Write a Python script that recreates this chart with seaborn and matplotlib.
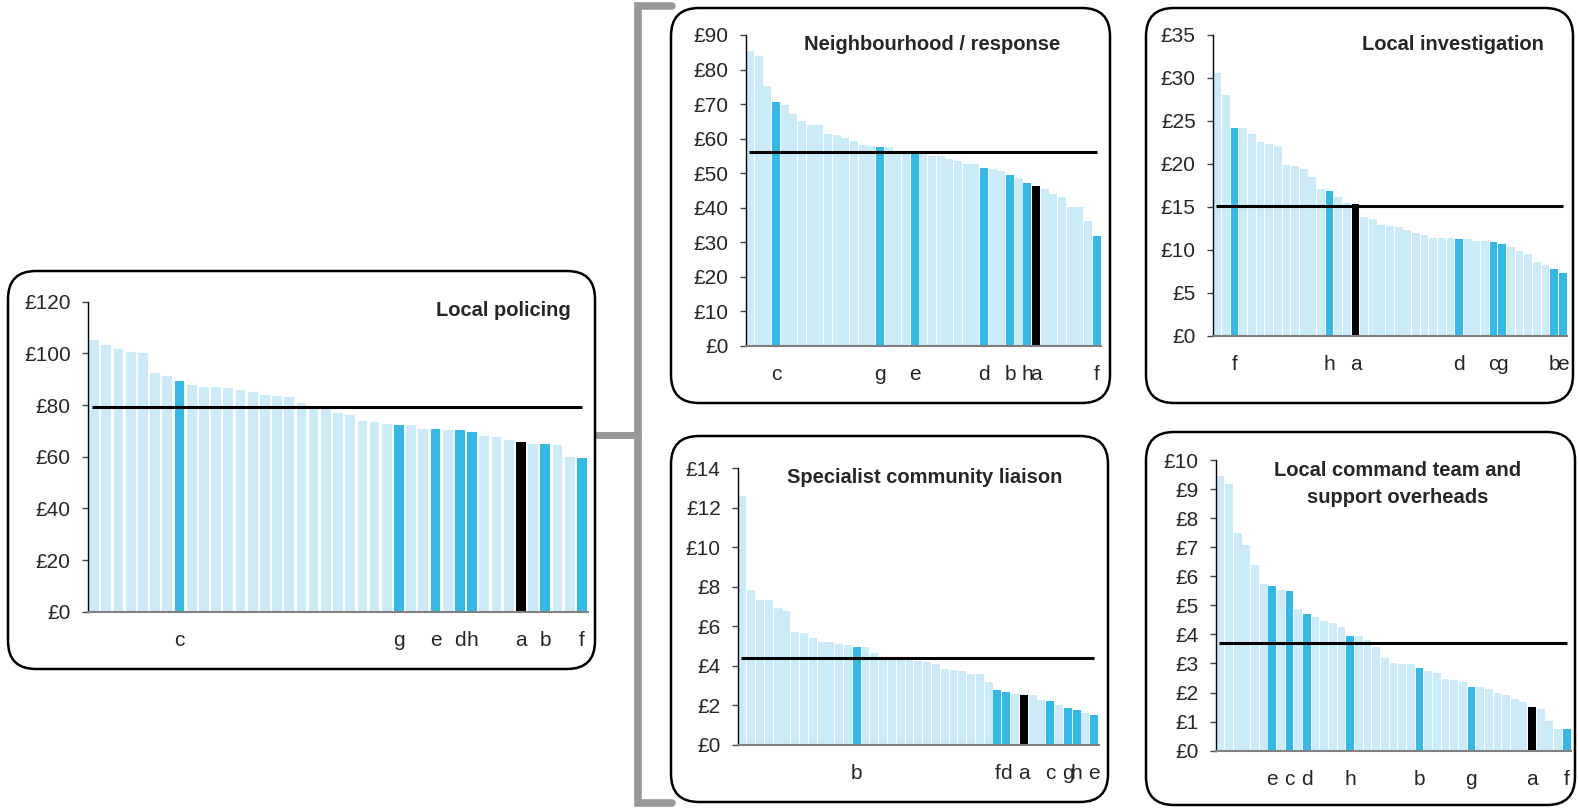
import numpy as np
import pandas as pd
import matplotlib
matplotlib.use("Agg")
import matplotlib.pyplot as plt
from matplotlib.patches import FancyBboxPatch
from matplotlib.lines import Line2D
from matplotlib.ticker import FuncFormatter
import seaborn as sns

sns.set_style("white")
plt.rcParams['font.family'] = ['Liberation Sans', 'DejaVu Sans']

W, H = 1578, 809

# ---------------- data (cost per head, £) ----------------
local_policing = [105.2, 103.2, 101.7, 100.5, 100.1, 92.4, 91.2, 89.3, 87.7, 87.0,
                  87.0, 86.6, 85.8, 85.0, 83.9, 83.5, 83.1, 80.6, 79.2, 79.0,
                  76.9, 76.1, 73.8, 73.4, 72.6, 72.3, 72.3, 70.7, 70.7, 70.3,
                  70.3, 69.5, 68.0, 67.6, 66.5, 65.7, 64.9, 64.9, 64.5, 59.9, 59.5]
local_policing_mean = 79.1
local_policing_labels = {'c': 7, 'g': 25, 'e': 28, 'd': 30, 'h': 31, 'a': 35, 'b': 37, 'f': 40}

neighbourhood = [85.3, 83.9, 75.2, 70.6, 69.7, 67.1, 65.1, 63.9, 63.9, 61.3,
                 61.0, 60.1, 59.3, 58.1, 57.8, 57.5, 57.5, 56.5, 56.3, 56.2,
                 55.7, 54.9, 54.9, 54.1, 53.5, 52.6, 52.6, 51.4, 51.2, 50.6,
                 49.4, 48.6, 47.1, 46.2, 45.4, 43.9, 43.1, 40.2, 40.2, 36.1, 31.8]
neighbourhood_mean = 56.0
neighbourhood_labels = {'c': 3, 'g': 15, 'e': 19, 'd': 27, 'b': 30, 'h': 32, 'a': 33, 'f': 40}

investigation = [30.6, 28.0, 24.2, 24.2, 23.5, 22.5, 22.3, 22.1, 19.9, 19.8,
                 19.4, 18.5, 17.1, 16.8, 16.1, 15.4, 15.3, 13.8, 13.6, 12.9,
                 12.8, 12.7, 12.3, 12.0, 11.7, 11.4, 11.4, 11.4, 11.3, 11.3,
                 11.0, 11.0, 10.9, 10.7, 10.3, 9.9, 9.5, 8.6, 8.2, 7.8, 7.3]
investigation_mean = 15.1
investigation_labels = {'f': 2, 'h': 13, 'a': 16, 'd': 28, 'c': 32, 'g': 33, 'b': 39, 'e': 40}

liaison = [12.6, 7.84, 7.34, 7.34, 6.93, 6.78, 5.72, 5.67, 5.41, 5.21,
           5.21, 5.11, 5.06, 4.96, 4.96, 4.65, 4.45, 4.38, 4.32, 4.3,
           4.25, 4.2, 4.1, 3.84, 3.79, 3.74, 3.59, 3.59, 3.19, 2.78,
           2.68, 2.58, 2.53, 2.53, 2.28, 2.23, 2.02, 1.87, 1.77, 1.62, 1.52]
liaison_mean = 4.38
liaison_labels = {'b': 13, 'f': 29, 'd': 30, 'a': 32, 'c': 35, 'g': 37, 'h': 38, 'e': 40}

command = [9.45, 9.17, 7.49, 7.08, 6.39, 5.73, 5.67, 5.53, 5.49, 4.87,
           4.70, 4.60, 4.46, 4.39, 4.25, 3.94, 3.94, 3.81, 3.57, 3.19,
           3.02, 2.98, 2.98, 2.84, 2.74, 2.67, 2.47, 2.43, 2.36, 2.19,
           2.19, 2.12, 1.98, 1.92, 1.78, 1.67, 1.50, 1.43, 1.02, 0.75, 0.75]
command_mean = 3.72
command_labels = {'e': 6, 'c': 8, 'd': 10, 'h': 15, 'b': 23, 'g': 29, 'a': 36, 'f': 40}

LIGHT = '#CCEBF8'
MID = '#33B9E8'
palette = {'other': LIGHT, 'force': MID, 'a': 'black'}


def px_axes(fig, x0, x1, y_top, y_bot):
    return fig.add_axes([x0 / W, 1 - y_bot / H, (x1 - x0) / W, (y_bot - y_top) / H])


def panel(fig, rect, values, mean, labels, ymax, ystep, width):
    ax = px_axes(fig, *rect)
    n = len(values)
    kinds = ['other'] * n
    for letter, i in labels.items():
        kinds[i] = 'a' if letter == 'a' else 'force'
    df = pd.DataFrame({'pos': range(n), 'value': values, 'kind': kinds})
    sns.barplot(data=df, x='pos', y='value', hue='kind', palette=palette,
                dodge=False, width=width, saturation=1, legend=False,
                order=list(range(n)), ax=ax, linewidth=0)
    ax.hlines(mean, -0.15, n - 1, color='black', lw=2.2, zorder=5)
    ax.set_xlim(-0.5, n - 0.5)
    ax.set_ylim(0, ymax)
    ax.set_yticks(np.arange(0, ymax + ystep / 2, ystep))
    ax.yaxis.set_major_formatter(FuncFormatter(lambda v, p: '£%d' % round(v)))
    ax.set_xticks(list(labels.values()), list(labels.keys()))
    ax.tick_params(axis='x', length=0, pad=14, labelsize=15)
    ax.tick_params(axis='y', direction='out', length=4.5, width=1, labelsize=15,
                   left=True, pad=8, color='#444444')
    ax.set_xlabel('')
    ax.set_ylabel('')
    for s in ['top', 'right']:
        ax.spines[s].set_visible(False)
    ax.spines['left'].set_color('black')
    ax.spines['left'].set_linewidth(1)
    ax.spines['bottom'].set_color('#808080')
    ax.spines['bottom'].set_linewidth(1.5)
    ax.patch.set_alpha(0)
    return ax


fig = plt.figure(figsize=(W / 100, H / 100), dpi=100)

# rounded boxes round each panel (pixels: left, top, right, bottom)
boxes = [(8, 271, 595, 669), (671, 8, 1110, 403), (671, 436, 1108, 802),
         (1146, 8, 1573, 403), (1146, 432, 1575, 805)]
for l, t, r, b in boxes:
    fig.add_artist(FancyBboxPatch(((l) / 100, (H - b) / 100), (r - l) / 100, (b - t) / 100,
                                  boxstyle='round,pad=0,rounding_size=0.28',
                                  transform=fig.dpi_scale_trans, facecolor='white',
                                  edgecolor='black', lw=1.8, zorder=0))

# grey bracket linking the total to its parts
def fig_line(xs, ys, **kw):
    fig.add_artist(Line2D([x / W for x in xs], [1 - y / H for y in ys],
                          transform=fig.transFigure, **kw))

fig_line([672, 638, 638, 672], [6, 6, 803, 803], color='#999999', lw=5.5,
         solid_joinstyle='miter', zorder=-1)
fig_line([595, 638], [435, 435], color='#999999', lw=5, zorder=-1)

panel(fig, (88, 588, 301.7, 611.7), local_policing, local_policing_mean,
      local_policing_labels, 120, 20, 0.8)
panel(fig, (745.7, 1101, 35, 345.7), neighbourhood, neighbourhood_mean,
      neighbourhood_labels, 90, 10, 0.9)
panel(fig, (1213, 1567, 35, 335.7), investigation, investigation_mean,
      investigation_labels, 35, 5, 0.9)
panel(fig, (738, 1098.6, 468.3, 745), liaison, liaison_mean,
      liaison_labels, 14, 2, 0.9)
panel(fig, (1216, 1571, 460, 750.7), command, command_mean,
      command_labels, 10, 1, 0.9)

# panel titles
def title(x, y, s, ha):
    fig.text(x / W, 1 - y / H, s, ha=ha, va='center', fontsize=14.5,
             fontweight='bold', linespacing=1.5)

title(571, 310.7, 'Local policing', 'right')
title(932, 45, 'Neighbourhood / response', 'center')
title(1544, 45, 'Local investigation', 'right')
title(925, 477.7, 'Specialist community liaison', 'center')
title(1398, 484, 'Local command team and\nsupport overheads', 'center')

fig.savefig('out.png', dpi=100)
